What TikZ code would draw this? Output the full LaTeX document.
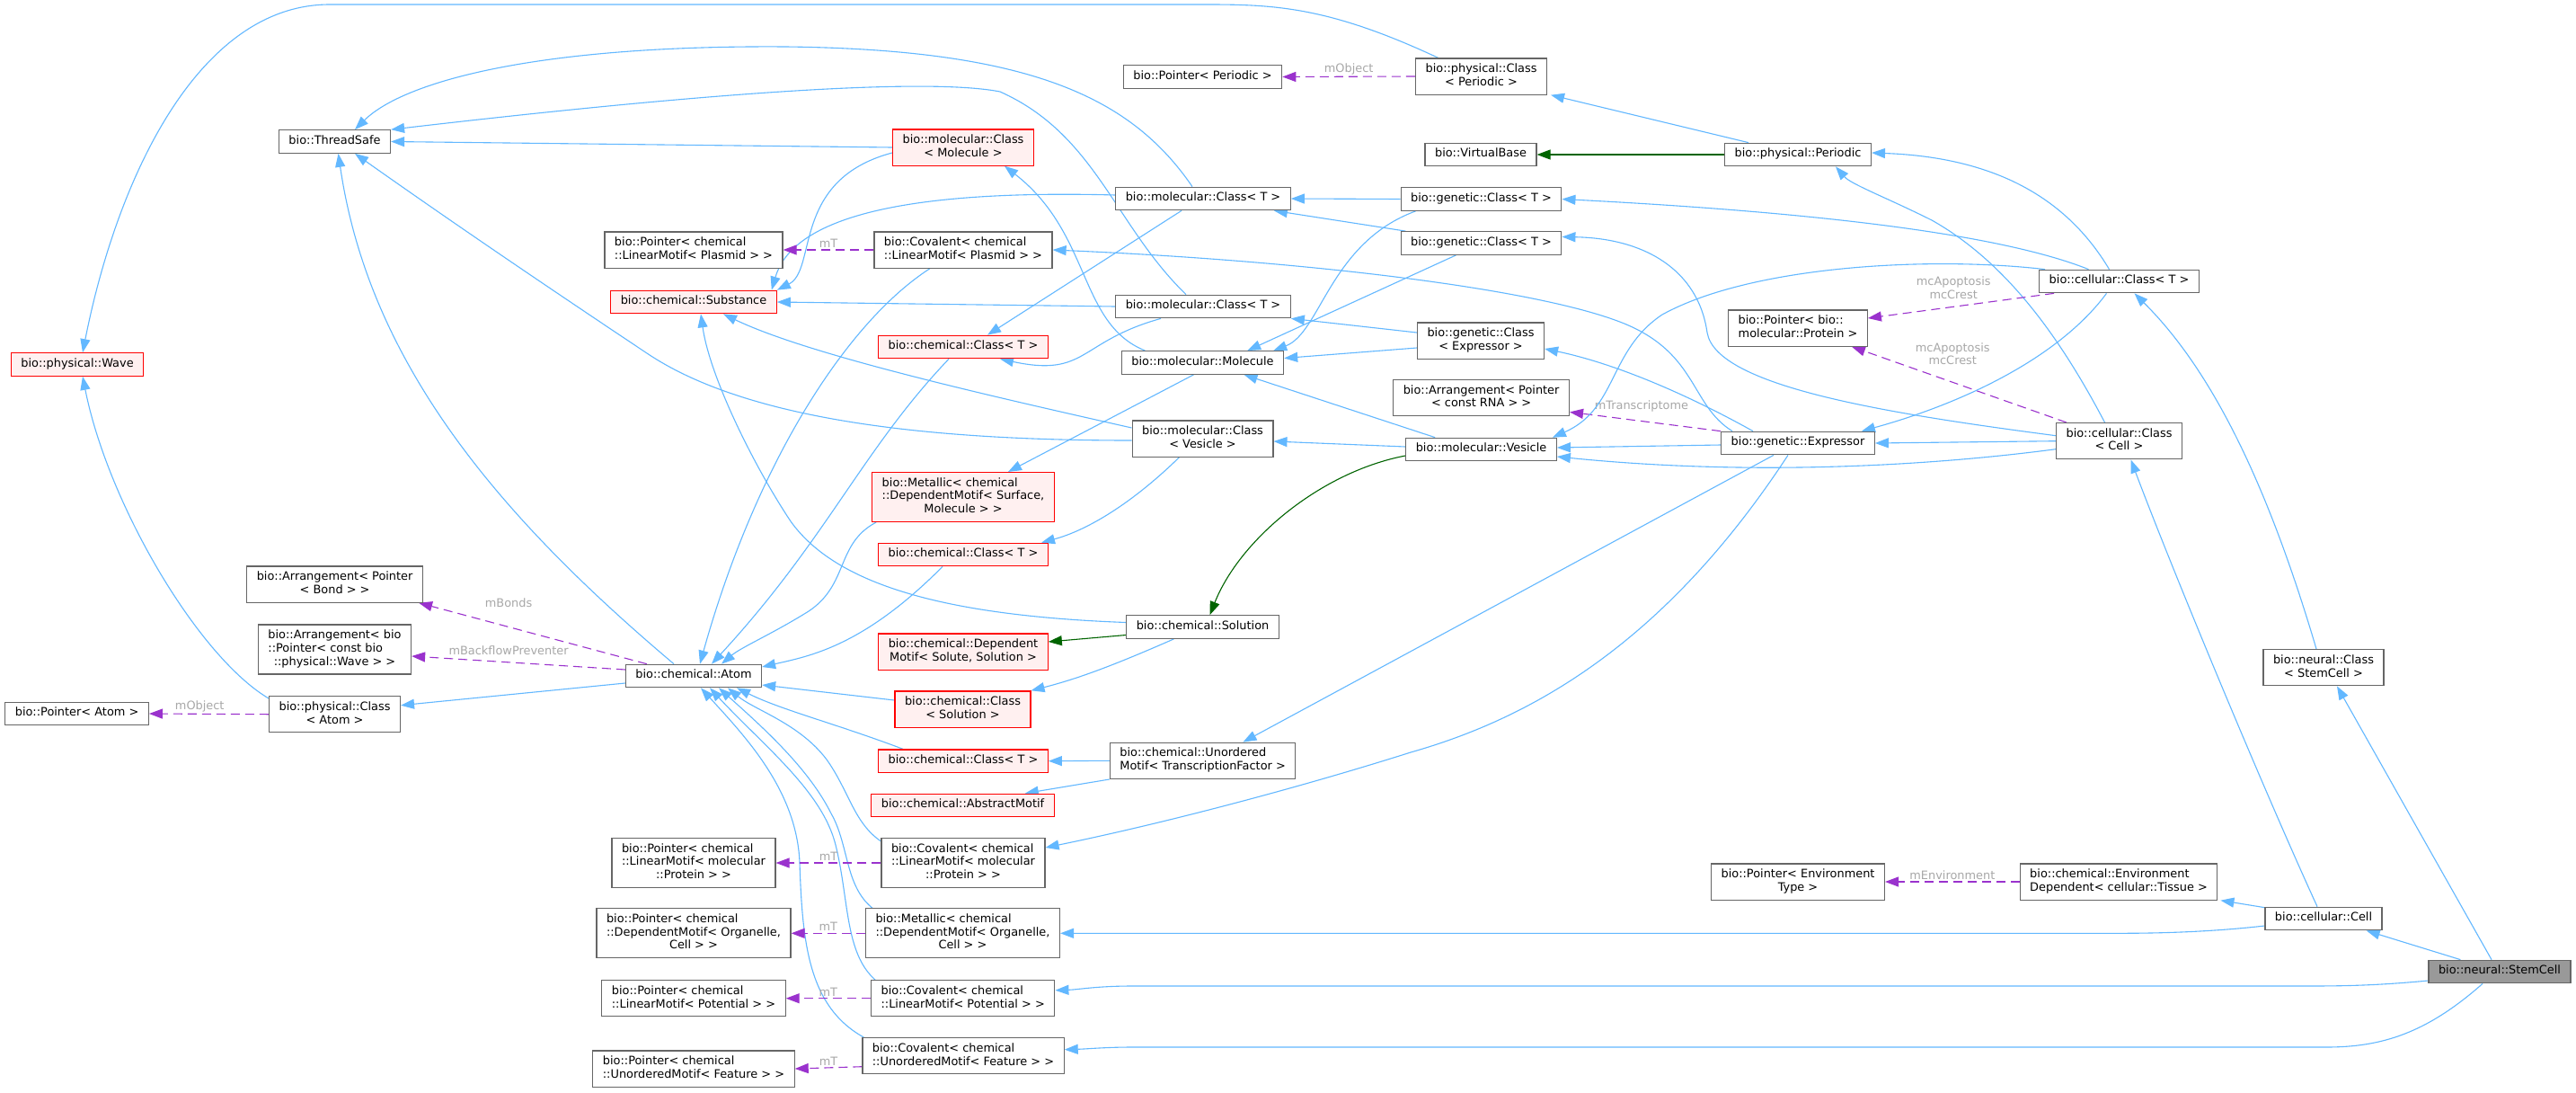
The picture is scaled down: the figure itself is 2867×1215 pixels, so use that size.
\documentclass[tikz,border=0pt]{standalone}
\usepackage{fontspec}
\setmainfont{DejaVu Sans}
\usetikzlibrary{calc,arrows.meta}
\pgfdeclarelayer{bg}
\pgfsetlayers{bg,main}
\definecolor{edgeblue}{HTML}{63B8FF}
\definecolor{edgepurple}{HTML}{9A32CD}
\definecolor{edgegreen}{HTML}{006400}
\definecolor{nodegray}{HTML}{666666}
\definecolor{redfill}{HTML}{FFF0F0}
\definecolor{labelgray}{HTML}{A8A8A8}
\newcommand\ndfont{\fontsize{6.45pt}{7.35pt}\selectfont}
\newcommand\nlab[1]{\begin{tabular}{@{}l@{}}#1\end{tabular}}
\newcommand\lastc[1]{\multicolumn{1}{@{}c@{}}{#1}}
\tikzset{
  nb/.style={draw=nodegray, fill=white, line width=0.6pt, inner xsep=5.5pt, inner ysep=2.7pt, font=\ndfont},
  nr/.style={nb, draw=red, fill=redfill},
  ng/.style={nb, fill=black!40},
  inh/.style={draw=edgeblue, line width=0.55pt, -{Triangle[length=7.5pt,width=5.5pt]}},
  prot/.style={inh, draw=edgegreen},
  usage/.style={inh, draw=edgepurple, dash pattern=on 5pt off 3pt},
  lbl/.style={font=\ndfont, text=labelgray, inner sep=1pt},
}
\begin{document}
\begin{tikzpicture}[x=0.5pt,y=-0.5pt]
\useasboundingbox (0,0) rectangle (2867,1215);
% ---------------- nodes
\node[nr] (wave) at (86,405.5) {\nlab{bio::physical::Wave}};
\node[nb] (ts) at (372.5,157.5) {\nlab{bio::ThreadSafe}};
\node[nb] (ptrPer) at (1338.5,85.5) {\nlab{bio::Pointer< Periodic >}};
\node[nb] (physClsPer) at (1648.5,85) {\nlab{bio::physical::Class\\\lastc{< Periodic >}}};
\node[nb] (vbase) at (1648,172) {\nlab{bio::VirtualBase}};
\node[nb] (periodic) at (2001,172) {\nlab{bio::physical::Periodic}};
\node[nr] (molClsMol) at (1072,164) {\nlab{bio::molecular::Class\\\lastc{< Molecule >}}};
\node[nb] (molClsT1) at (1339,221) {\nlab{bio::molecular::Class< T >}};
\node[nb] (genClsT1) at (1648.5,221.5) {\nlab{bio::genetic::Class< T >}};
\node[nb] (ptrPlasmid) at (772,278) {\nlab{bio::Pointer< chemical\\\lastc{::LinearMotif< Plasmid > >}}};
\node[nb] (covPlasmid) at (1072,278) {\nlab{bio::Covalent< chemical\\\lastc{::LinearMotif< Plasmid > >}}};
\node[nb] (genClsT2) at (1648.5,270.5) {\nlab{bio::genetic::Class< T >}};
\node[nb] (cellClsT) at (2358.5,313) {\nlab{bio::cellular::Class< T >}};
\node[nr] (substance) at (772,336) {\nlab{bio::chemical::Substance}};
\node[nb] (molClsT2) at (1339,341) {\nlab{bio::molecular::Class< T >}};
\node[nb] (ptrProtein) at (2001,365) {\nlab{bio::Pointer< bio::\\\lastc{molecular::Protein >}}};
\node[nb] (genClsExpr) at (1648,379) {\nlab{bio::genetic::Class\\\lastc{< Expressor >}}};
\node[nr] (chemClsT1) at (1072,386) {\nlab{bio::chemical::Class< T >}};
\node[nb] (molecule) at (1338.5,403.5) {\nlab{bio::molecular::Molecule}};
\node[nb] (arrRNA) at (1648.6,442.7) {\nlab{bio::Arrangement< Pointer\\\lastc{< const RNA > >}}};
\node[nb] (molClsVes) at (1338.5,488) {\nlab{bio::molecular::Class\\\lastc{< Vesicle >}}};
\node[nb] (vesicle) at (1648.5,500) {\nlab{bio::molecular::Vesicle}};
\node[nb] (expressor) at (2001,493) {\nlab{bio::genetic::Expressor}};
\node[nb] (cellClsCell) at (2358.5,490.7) {\nlab{bio::cellular::Class\\\lastc{< Cell >}}};
\node[nr] (metSurf) at (1072,553) {\nlab{bio::Metallic< chemical\\::DependentMotif< Surface,\\\lastc{Molecule > >}}};
\node[nr] (chemClsT2) at (1072,617) {\nlab{bio::chemical::Class< T >}};
\node[nb] (arrBond) at (372.6,650) {\nlab{bio::Arrangement< Pointer\\\lastc{< Bond > >}}};
\node[nb] (solution) at (1338.5,697.5) {\nlab{bio::chemical::Solution}};
\node[nr] (depMotif) at (1072,725) {\nlab{bio::chemical::Dependent\\\lastc{Motif< Solute, Solution >}}};
\node[nb] (arrWave) at (372.5,722.5) {\nlab{bio::Arrangement< bio\\::Pointer< const bio\\\lastc{::physical::Wave > >}}};
\node[nb] (neuralCls) at (2586,742.7) {\nlab{bio::neural::Class\\\lastc{< StemCell >}}};
\node[nb] (atom) at (772,752) {\nlab{bio::chemical::Atom}};
\node[nr] (chemClsSol) at (1071.5,789) {\nlab{bio::chemical::Class\\\lastc{< Solution >}}};
\node[nb] (ptrAtom) at (85.6,794) {\nlab{bio::Pointer< Atom >}};
\node[nb] (physClsAtom) at (372.5,794.7) {\nlab{bio::physical::Class\\\lastc{< Atom >}}};
\node[nr] (chemClsT3) at (1072,846.7) {\nlab{bio::chemical::Class< T >}};
\node[nb] (unordTF) at (1338.6,846.3) {\nlab{bio::chemical::Unordered\\\lastc{Motif< TranscriptionFactor >}}};
\node[nr] (abstract) at (1071.5,896) {\nlab{bio::chemical::AbstractMotif}};
\node[nb] (ptrProt2) at (772,960) {\nlab{bio::Pointer< chemical\\::LinearMotif< molecular\\\lastc{::Protein > >}}};
\node[nb] (covProt) at (1072,960) {\nlab{bio::Covalent< chemical\\::LinearMotif< molecular\\\lastc{::Protein > >}}};
\node[nb] (ptrEnv) at (2001,981) {\nlab{bio::Pointer< Environment\\\lastc{Type >}}};
\node[nb] (envDep) at (2358,981) {\nlab{bio::chemical::Environment\\\lastc{Dependent< cellular::Tissue >}}};
\node[nb] (cell) at (2586,1022) {\nlab{bio::cellular::Cell}};
\node[nb] (ptrOrg) at (772,1038.3) {\nlab{bio::Pointer< chemical\\::DependentMotif< Organelle,\\\lastc{Cell > >}}};
\node[nb] (metOrg) at (1071.5,1038.3) {\nlab{bio::Metallic< chemical\\::DependentMotif< Organelle,\\\lastc{Cell > >}}};
\node[ng] (stem) at (2782,1081) {\nlab{bio::neural::StemCell}};
\node[nb] (ptrPot) at (772,1110.7) {\nlab{bio::Pointer< chemical\\\lastc{::LinearMotif< Potential > >}}};
\node[nb] (covPot) at (1071.7,1110.7) {\nlab{bio::Covalent< chemical\\\lastc{::LinearMotif< Potential > >}}};
\node[nb] (ptrFeat) at (772,1189) {\nlab{bio::Pointer< chemical\\\lastc{::UnorderedMotif< Feature > >}}};
\node[nb] (covFeat) at (1072,1174.7) {\nlab{bio::Covalent< chemical\\\lastc{::UnorderedMotif< Feature > >}}};
% ---------------- edges
\begin{pgfonlayer}{bg}
\fill[white] (0,0) rectangle (2867,1215);
% into Wave
\draw[inh] ($(physClsPer.north)+(-48,0)$) .. controls (1480,8) and (1420,5) .. (1343,5) -- (367,5) .. controls (220,5) and (130,200) .. ($(wave.north)+(6,0)$);
\draw[inh] ($(physClsAtom.north west)+(0,3)$) .. controls (220,730) and (120,560) .. ($(wave.south)+(6,0)$);
% into ThreadSafe
\draw[inh] ($(molClsT1.north)+(-12,0)$) .. controls (1260,110) and (1150,55) .. (874,52) .. controls (600,50) and (450,90) .. ($(ts.north)+(22.5,0)$);
\draw[inh] ($(molClsT2.north)+(-19,0)$) .. controls (1240,250) and (1220,150) .. (1113,102) .. controls (1000,80) and (600,125) .. (ts.north east);
\draw[inh] (molClsMol.west) -- (ts.east);
\draw[inh] ($(atom.north)+(-22,0)$) .. controls (550,570) and (410,400) .. ($(ts.south)+(4,0)$);
\draw[inh] ($(molClsVes.west)+(0,2)$) .. controls (1000,490) and (820,460) .. (720,393) .. controls (600,313) and (500,245) .. ($(ts.south)+(22.5,0)$);
% into Substance
\draw[inh] ($(molClsMol.west)+(0,6)$) .. controls (880,200) and (910,300) .. (substance.north east);
\draw[inh] ($(molClsT1.west)+(0,-4)$) .. controls (980,210) and (880,250) .. ($(substance.north east)+(-6,0)$);
\draw[inh] (molClsT2.west) -- (substance.east);
\draw[inh] ($(molClsVes.west)+(0,-12)$) .. controls (1100,440) and (900,395) .. ($(substance.south)+(33,0)$);
\draw[inh] ($(solution.west)+(0,-5)$) .. controls (1050,685) and (930,650) .. (880,580) .. controls (840,520) and (790,420) .. ($(substance.south)+(8,0)$);
% chemical::Class< T > (upper)
\draw[inh] ($(molClsT1.south)+(-24,0)$) -- ($(chemClsT1.north)+(27,0)$);
\draw[inh] ($(molClsT2.south)+(-47,0)$) .. controls (1200,380) and (1210,420) .. ($(chemClsT1.south)+(41,0)$);
% Molecule
\draw[inh] ($(molecule.north)+(-64,0)$) .. controls (1200,360) and (1215,260) .. ($(molClsMol.south)+(46,0)$);
\draw[inh] ($(molecule.south)+(-10,0)$) -- ($(metSurf.north)+(50,0)$);
% into Atom
\draw[inh] ($(chemClsT1.south)+(-16,0)$) .. controls (960,500) and (920,600) .. ($(atom.north)+(20,0)$);
\draw[inh] ($(covPlasmid.south)+(-37,0)$) .. controls (940,360) and (840,520) .. ($(atom.north)+(7,0)$);
\draw[inh] ($(metSurf.south west)+(5,0)$) .. controls (930,605) and (945,650) .. (900,680) .. controls (860,705) and (825,720) .. ($(atom.north)+(31,0)$);
\draw[inh] ($(chemClsT2.south)+(-23,0)$) .. controls (960,720) and (900,730) .. ($(atom.east)+(0,-10)$);
\draw[inh] ($(chemClsSol.west)+(0,-10)$) -- ($(atom.east)+(0,10)$);
\draw[inh] ($(chemClsT3.north)+(-67,0)$) .. controls (930,805) and (870,790) .. ($(atom.south)+(48,0)$);
\draw[inh] ($(covProt.north west)+(0,4)$) .. controls (950,915) and (945,880) .. (920,845) .. controls (890,805) and (840,790) .. ($(atom.south)+(38,0)$);
\draw[inh] ($(metOrg.north west)+(8,0)$) .. controls (940,985) and (945,940) .. (925,905) .. controls (900,855) and (850,810) .. ($(atom.south)+(28,0)$);
\draw[inh] ($(covPot.north west)+(5,0)$) .. controls (940,1060) and (945,1000) .. (930,940) .. controls (915,880) and (850,830) .. ($(atom.south)+(18,0)$);
\draw[inh] ($(covFeat.north west)+(2,0)$) .. controls (900,1120) and (893,1050) .. (890,960) .. controls (887,880) and (830,820) .. ($(atom.south)+(8,0)$);
% Atom outgoing
\draw[inh] ($(atom.west)+(0,8)$) -- ($(physClsAtom.east)+(0,-10)$);
\draw[usage] ($(atom.north west)+(24,0)$) -- node[lbl, pos=0.606, yshift=13.5pt] {mBonds} ($(arrBond.south east)+(-5,0)$);
\draw[usage] ($(atom.west)+(0,-7)$) -- node[lbl, pos=0.546, yshift=6.5pt] {mBackflowPreventer} ($(arrWave.east)+(0,7.5)$);
\draw[usage] (physClsAtom.west) -- node[lbl, pos=0.577, above] {mObject} (ptrAtom.east);
% chemical classes
\draw[inh] ($(molClsVes.south)+(-26,0)$) .. controls (1260,560) and (1210,590) .. ($(chemClsT2.north)+(87,0)$);
\draw[prot] ($(vesicle.west)+(0,7)$) .. controls (1470,525) and (1380,600) .. ($(solution.north)+(8,0)$);
\draw[prot] ($(solution.west)+(0,9)$) -- ($(depMotif.east)+(0,-11)$);
\draw[inh] ($(solution.south)+(-32,0)$) .. controls (1240,740) and (1200,755) .. (chemClsSol.north east);
\draw[inh] (unordTF.west) -- (chemClsT3.east);
\draw[inh] (unordTF.south west) -- ($(abstract.north east)+(-33,0)$);
% pointers mT
\draw[usage] (covPlasmid.west) -- node[lbl, above] {mT} (ptrPlasmid.east);
\draw[usage] (covProt.west) -- node[lbl, above] {mT} (ptrProt2.east);
\draw[usage] (metOrg.west) -- node[lbl, above] {mT} (ptrOrg.east);
\draw[usage] (covPot.west) -- node[lbl, above] {mT} (ptrPot.east);
\draw[usage] ($(covFeat.west)+(0,12)$) -- node[lbl, above] {mT} (ptrFeat.east);
% genetic classes
\draw[inh] (genClsT1.west) -- (molClsT1.east);
\draw[inh] ($(genClsT2.north west)+(6,0)$) -- ($(molClsT1.south east)+(-19,0)$);
\draw[inh] ($(genClsT1.south west)+(17,0)$) .. controls (1480,270) and (1470,370) .. ($(molecule.north east)+(-12,0)$);
\draw[inh] ($(genClsT2.south)+(-28,0)$) -- ($(molecule.north east)+(-41,0)$);
\draw[inh] ($(genClsExpr.west)+(0,8)$) -- ($(molecule.east)+(0,-5)$);
\draw[inh] ($(genClsExpr.west)+(0,-9)$) -- (molClsT2.south east);
% physical
\draw[inh] ($(periodic.north)+(-55,0)$) -- ($(physClsPer.south east)+(4,0)$);
\draw[prot] (periodic.west) -- (vbase.east);
\draw[usage] (physClsPer.west) -- node[lbl, above] {mObject} (ptrPer.east);
% Vesicle
\draw[inh] ($(vesicle.north west)+(33,0)$) -- ($(molecule.south)+(46,0)$);
\draw[inh] ($(vesicle.west)+(0,-3)$) -- ($(molClsVes.east)+(0,3)$);
% Expressor
\draw[inh] ($(expressor.west)+(0,2)$) -- ($(vesicle.east)+(0,-2)$);
\draw[inh] ($(expressor.north)+(-73,0)$) .. controls (1880,450) and (1890,390) .. (1800,357) .. controls (1700,320) and (1450,290) .. (covPlasmid.east);
\draw[inh] ($(expressor.north)+(-50,0)$) .. controls (1880,440) and (1800,405) .. ($(genClsExpr.east)+(0,9)$);
\draw[usage] (expressor.north west) -- node[lbl, pos=0.525, yshift=8.4pt] {mTranscriptome} ($(arrRNA.south east)+(0,-5)$);
\draw[inh] ($(expressor.south)+(-27,0)$) -- ($(unordTF.north east)+(-59,0)$);
\draw[inh] ($(expressor.south)+(-11,0)$) .. controls (1850,720) and (1700,800) .. (1570,837) .. controls (1450,875) and (1300,915) .. ($(covProt.east)+(0,-17)$);
% cellular::Class< Cell >
\draw[inh] ($(cellClsCell.west)+(0,9)$) .. controls (2150,518) and (1950,530) .. ($(vesicle.east)+(0,8)$);
\draw[inh] (cellClsCell.west) -- (expressor.east);
\draw[inh] ($(cellClsCell.west)+(0,-6)$) .. controls (2100,460) and (1910,430) .. (1900,370) .. controls (1890,300) and (1830,265) .. ($(genClsT2.east)+(0,-7)$);
\draw[inh] ($(cellClsCell.north)+(-16,0)$) .. controls (2290,370) and (2230,290) .. (2150,245) .. controls (2100,220) and (2060,205) .. ($(periodic.south)+(42,0)$);
\draw[usage] ($(cellClsCell.north west)+(12,0)$) -- node[lbl, pos=0.53, yshift=15.75pt, align=center] {mcApoptosis\\mcCrest} ($(ptrProtein.south east)+(-18,0)$);
% cellular::Class< T >
\draw[usage] ($(cellClsT.south west)+(17,0)$) -- node[lbl, pos=0.54, yshift=10.5pt, align=center] {mcApoptosis\\mcCrest} ($(ptrProtein.east)+(0,-11)$);
\draw[inh] ($(cellClsT.north)+(-34,0)$) .. controls (2220,258) and (2000,235) .. (genClsT1.east);
\draw[inh] ($(cellClsT.north)+(-11,0)$) .. controls (2300,220) and (2220,175) .. ($(periodic.east)+(0,-2)$);
\draw[inh] ($(cellClsT.north west)+(7,0)$) .. controls (2150,285) and (1950,295) .. (1850,350) .. controls (1790,390) and (1800,455) .. ($(vesicle.north east)+(-5,0)$);
\draw[inh] ($(cellClsT.south)+(-14,0)$) .. controls (2290,400) and (2180,450) .. ($(expressor.north east)+(-15,0)$);
% Cell and StemCell
\draw[inh] ($(cell.west)+(0,8)$) .. controls (2460,1037) and (2400,1038.3) .. (2360,1038.3) -- (metOrg.east);
\draw[inh] ($(cell.north)+(-7,0)$) .. controls (2520,880) and (2420,640) .. ($(cellClsCell.south)+(13,0)$);
\draw[inh] ($(cell.north west)+(0,1)$) -- ($(envDep.south east)+(3,0)$);
\draw[usage] (envDep.west) -- node[lbl, above] {mEnvironment} (ptrEnv.east);
\draw[inh] ($(neuralCls.north)+(-8,0)$) .. controls (2530,560) and (2470,420) .. ($(cellClsT.south)+(17,0)$);
\draw[inh] ($(stem.west)+(0,10)$) .. controls (2640,1097) and (2600,1097) .. (2560,1097) -- (1260,1097) .. controls (1220,1097) and (1200,1101) .. ($(covPot.east)+(0,-9)$);
\draw[inh] ($(stem.south)+(-19,0)$) .. controls (2700,1150) and (2650,1165) .. (2589,1165) -- (1260,1165) .. controls (1230,1165) and (1210,1167) .. ($(covFeat.east)+(0,-7)$);
\draw[inh] ($(stem.north west)+(36,0)$) -- ($(cell.south east)+(-18,0)$);
\draw[inh] ($(stem.north)+(-9,0)$) -- ($(neuralCls.south)+(15,0)$);
\end{pgfonlayer}
\end{tikzpicture}
\end{document}
